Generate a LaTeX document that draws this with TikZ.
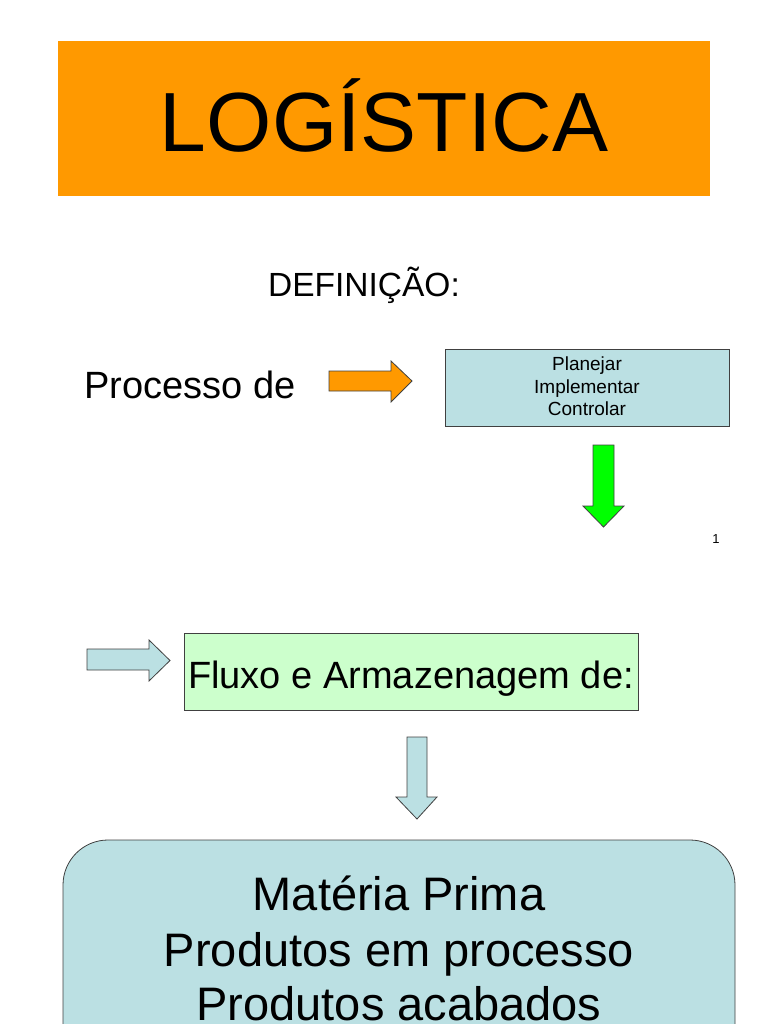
\documentclass[tikz,border=0pt]{standalone}
\usepackage{fontspec}
\setmainfont{Liberation Sans}
\definecolor{titleor}{HTML}{FF9900}
\definecolor{lblue}{HTML}{BBE0E3}
\definecolor{lgreen}{HTML}{CCFFCC}
\definecolor{bgreen}{HTML}{00FF00}
\definecolor{edge}{HTML}{404040}
\begin{document}
\begin{tikzpicture}[x=1pt,y=-1pt,
  blockarrow/.style={draw=edge,line width=0.8pt,line join=miter},
  boxstyle/.style={draw=edge,line width=0.8pt},
  txt/.style={inner sep=0pt,anchor=base,text=black}]
\useasboundingbox (0,0) rectangle (768,1024);
\clip (0,0) rectangle (768,1024);
% title
\fill[titleor] (58,41) rectangle (710,196);
\node[txt] (title) at (384,152) {\fontsize{84}{84}\selectfont LOGÍSTICA};
% definition
\node[txt] (def) at (364,296) {\fontsize{33.5}{33.5}\selectfont DEFINIÇÃO:};
\node[txt,anchor=base west] (proc) at (84,398) {\fontsize{38}{38}\selectfont Processo de};
% orange arrow
\path[blockarrow,fill=titleor] (329,371) -- (391,371) -- (391,361) -- (412,381) -- (391,402) -- (391,391) -- (329,391) -- cycle;
% planejar box
\draw[boxstyle,fill=lblue] (445,349) rectangle (729,426);
\node[txt] (p1) at (587,370) {\fontsize{19}{19}\selectfont Planejar};
\node[txt] (p2) at (587,393) {\fontsize{19}{19}\selectfont Implementar};
\node[txt] (p3) at (587,415) {\fontsize{19}{19}\selectfont Controlar};
% green arrow
\path[blockarrow,fill=bgreen] (593,445) -- (614,445) -- (614,506) -- (624,506) -- (603.5,527) -- (583,506) -- (593,506) -- cycle;
\node[txt] (num) at (716,543) {\fontsize{13}{13}\selectfont 1};
% light blue left arrow
\path[blockarrow,fill=lblue] (87,649) -- (149,649) -- (149,640) -- (170,660.5) -- (149,681) -- (149,670) -- (87,670) -- cycle;
% fluxo box
\draw[boxstyle,fill=lgreen] (184,633) rectangle (638,710);
\node[txt] (fluxo) at (411,688) {\fontsize{38}{38}\selectfont Fluxo e Armazenagem de:};
% down arrow
\path[blockarrow,fill=lblue] (407,737) -- (427,737) -- (427,797) -- (437,797) -- (417,819) -- (396,797) -- (407,797) -- cycle;
% bottom rounded box
\draw[boxstyle,fill=lblue,rounded corners=45pt] (63,1060) -- (63,840) -- (735,840) -- (735,1060);
\node[txt] (m1) at (399,910) {\fontsize{47}{47}\selectfont Matéria Prima};
\node[txt] (m2) at (399,966) {\fontsize{47}{47}\selectfont Produtos em processo};
\node[txt] (m3) at (399,1020) {\fontsize{47}{47}\selectfont Produtos acabados};
\end{tikzpicture}
\end{document}
